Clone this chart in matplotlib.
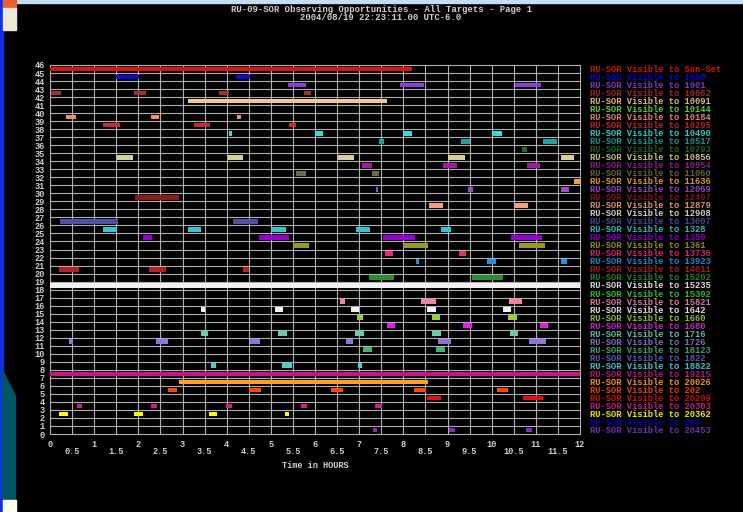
import matplotlib
matplotlib.use("Agg")
from matplotlib import pyplot as plt
from matplotlib.patches import Rectangle, Polygon

# Targets, one per row from row 45 at the top down to row 0
targets = ["Sun-Set", "1000", "1001", "10062", "10091", "10144", "10184", "10295",
           "10490", "10517", "10793", "10856", "10954", "11060", "11636", "12069",
           "12497", "12879", "12908", "13007", "1328", "1359", "1361", "13736",
           "13923", "14011", "15202", "15235", "15392", "15821", "1642", "1660",
           "1680", "1716", "1726", "18123", "1822", "18822", "19215", "20026",
           "202", "20299", "20303", "20362", "284", "20453"]

colors = ["#dd1414", "#0a0ad2", "#8a3fd0", "#a03232", "#f0c896", "#66dd44", "#f09070", "#c8283c",
          "#30dcdc", "#20a0a0", "#1f6e1f", "#d2d29a", "#9a1f9a", "#6b6b47", "#f0a040", "#9a4fc8",
          "#8b1a1a", "#f0a080", "#e0e0e0", "#5050a0", "#30c8d0", "#9400d3", "#9a9a20", "#e8287a",
          "#2090e0", "#b22222", "#2e8b2e", "#f0f0f0", "#32cd32", "#f080b0", "#f0f0f0", "#9acd32",
          "#e020e0", "#66cdaa", "#9370db", "#3cb371", "#6a5acd", "#48d1cc", "#c71585", "#ffa020",
          "#ff4500", "#e01010", "#d02090", "#ffff00", "#0000cd", "#8030c0"]

# Visibility windows in hours (start, end), same order as targets
windows = [
    [(0.0, 8.19)],
    [(1.49, 2.02), (4.2, 4.53)],
    [(5.38, 5.8), (7.92, 8.47), (10.53, 11.12)],
    [(0.02, 0.26), (1.9, 2.17), (3.83, 4.06), (5.75, 5.92)],
    [(3.12, 7.62)],
    [],
    [(0.36, 0.58), (2.29, 2.47), (4.23, 4.32)],
    [(1.21, 1.58), (3.27, 3.62), (5.42, 5.58)],
    [(4.05, 4.12), (6.0, 6.17), (8.02, 8.2), (10.01, 10.23)],
    [(7.45, 7.57), (9.3, 9.52), (11.17, 11.47)],
    [(10.68, 10.81)],
    [(1.52, 1.87), (4.02, 4.38), (6.53, 6.89), (9.02, 9.4), (11.56, 11.86)],
    [(7.07, 7.28), (8.9, 9.21), (10.81, 11.09)],
    [(5.58, 5.8), (7.28, 7.45)],
    [(11.87, 12.0)],
    [(7.37, 7.42), (9.47, 9.58), (11.58, 11.76)],
    [(1.92, 2.93)],
    [(8.58, 8.89), (10.5, 10.83)],
    [],
    [(0.23, 1.55), (4.15, 4.72)],
    [(1.21, 1.52), (3.12, 3.43), (5.02, 5.34), (6.93, 7.24), (8.85, 9.09)],
    [(2.11, 2.32), (4.73, 5.41), (7.55, 8.26), (10.44, 11.13)],
    [(5.51, 5.87), (8.0, 8.56), (10.62, 11.21)],
    [(7.58, 7.77), (9.26, 9.43)],
    [(8.28, 8.36), (9.9, 10.1), (11.58, 11.7)],
    [(0.21, 0.66), (2.24, 2.62), (4.38, 4.51)],
    [(7.22, 7.79), (9.56, 10.25)],
    [(0.0, 12.0)],
    [],
    [(6.57, 6.68), (8.4, 8.74), (10.4, 10.69)],
    [(3.43, 3.51), (5.09, 5.28), (6.81, 7.0), (8.53, 8.73), (10.26, 10.43)],
    [(6.96, 7.09), (8.66, 8.83), (10.38, 10.57)],
    [(7.64, 7.81), (9.36, 9.56), (11.09, 11.28)],
    [(3.43, 3.58), (5.17, 5.36), (6.9, 7.11), (8.66, 8.85), (10.41, 10.6)],
    [(0.44, 0.53), (2.4, 2.68), (4.53, 4.76), (6.7, 6.87), (8.79, 9.08), (10.85, 11.24)],
    [(7.08, 7.28), (8.74, 8.94)],
    [],
    [(3.64, 3.76), (5.26, 5.47), (6.98, 7.06)],
    [(0.0, 12.0)],
    [(2.92, 8.55)],
    [(2.68, 2.88), (4.51, 4.77), (6.36, 6.64), (8.25, 8.51), (10.13, 10.36)],
    [(8.53, 8.85), (10.7, 11.17)],
    [(0.6, 0.72), (2.28, 2.43), (3.98, 4.13), (5.68, 5.83), (7.36, 7.51)],
    [(0.21, 0.41), (1.91, 2.11), (3.61, 3.79), (5.32, 5.42)],
    [],
    [(7.32, 7.41), (9.03, 9.18), (10.78, 10.92)],
]

title = "RU-09-SOR Observing Opportunities - All Targets - Page 1"
stamp = "2004/08/19 22:23:11.00 UTC-6.0"

mono = "Liberation Mono"
txt = "#d0d0d0"

fig = plt.figure(figsize=(7.43, 5.12), dpi=100, facecolor="black")

# window frame pieces along the left and top edge
chrome = fig.add_axes([0, 0, 1, 1])
chrome.set_xlim(0, 743)
chrome.set_ylim(512, 0)
chrome.axis("off")
chrome.add_patch(Rectangle((0, 0), 743, 3, color="#c4dcf4"))
chrome.add_patch(Rectangle((0, 0), 2.5, 512, color="#1030e8"))
chrome.add_patch(Rectangle((2.5, 0), 13, 8, color="#e86030"))
chrome.add_patch(Rectangle((2.5, 8), 13, 22, color="#ece9d8"))
chrome.add_patch(Polygon([(2.5, 370), (15.5, 396), (15.5, 500), (2.5, 500)], color="#005466"))
chrome.add_patch(Rectangle((2.5, 500), 13, 12, color="#fffff0"))

ax = fig.add_axes([50 / 743, 1 - 434 / 512, 530 / 743, 369 / 512])
ax.set_facecolor("black")

n = len(targets)
for i, (name, col, spans) in enumerate(zip(targets, colors, windows)):
    row = n - 1 - i
    for start, end in spans:
        ax.barh(row + 0.5, end - start, left=start, height=0.58, color=col, zorder=3)
    ax.text(12.23, row + 0.45, "RU-SOR Visible to " + name, color=col, fontsize=6.35,
            family=mono, fontweight="bold", va="center", ha="left", clip_on=False, alpha=0.92)

ax.set_xlim(0, 12)
ax.set_ylim(0, 46)

# grid every half hour and every row
for xv in [k * 0.5 for k in range(1, 24)]:
    ax.axvline(xv, color="#b0b0b0", lw=0.8, zorder=1)
for yv in range(1, 46):
    ax.axhline(yv, color="#b0b0b0", lw=0.8, zorder=1)
for s in ax.spines.values():
    s.set_color("#b0b0b0")
    s.set_linewidth(0.8)

ax.set_yticks(range(0, 47))
ax.set_yticklabels([str(v) for v in range(0, 47)], family=mono, fontweight="bold",
                   fontsize=6.2, color=txt)
ax.tick_params(axis="y", length=0, pad=4)

ax.set_xticks(range(0, 13))
ax.set_xticklabels([str(v) for v in range(0, 13)], family=mono, fontweight="bold",
                   fontsize=6.2, color=txt)
ax.tick_params(axis="x", length=0, pad=4)
for k in range(12):
    ax.text(k + 0.5, -2.2, str(k + 0.5), color=txt, fontsize=6.2, family=mono,
            fontweight="bold", ha="center", va="center", clip_on=False)

ax.text(6, -3.9, "Time in HOURS", color=txt, fontsize=6.2, family=mono, fontweight="bold",
        ha="center", va="center", clip_on=False)

fig.text(381 / 743, 1 - 9 / 512, title, color=txt, fontsize=6.4, family=mono,
         fontweight="bold", ha="center", va="center")
fig.text(381 / 743, 1 - 17 / 512, stamp, color=txt, fontsize=6.4, family=mono,
         fontweight="bold", ha="center", va="center")

fig.savefig("out.png", dpi=100, facecolor="black")
